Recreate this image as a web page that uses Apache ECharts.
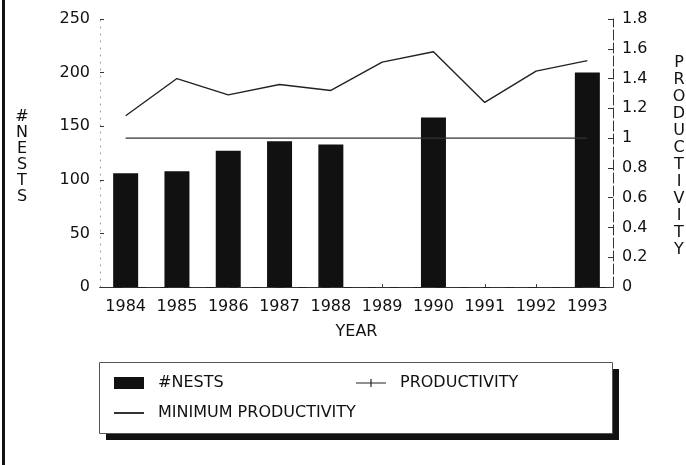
<!DOCTYPE html>
<html>
<head>
<meta charset="utf-8">
<script src="https://cdn.jsdelivr.net/npm/echarts@6/dist/echarts.min.js"></script>
<style>html,body{margin:0;padding:0;background:#fff}#c{width:686px;height:465px}</style>
</head>
<body>
<div id="c"></div>
<script>
var years = ['1984','1985','1986','1987','1988','1989','1990','1991','1992','1993'];
var nests = [106, 108, 127, 136, 133, null, 158, null, null, 200];
var productivity = [1.15, 1.40, 1.29, 1.36, 1.32, 1.51, 1.58, 1.24, 1.45, 1.52];
var minProductivity = [1, 1, 1, 1, 1, 1, 1, 1, 1, 1];
var nestTicks = [0, 50, 100, 150, 200, 250];
var prodTicks = [0, 0.2, 0.4, 0.6, 0.8, 1, 1.2, 1.4, 1.6, 1.8];

var FONT = 'DejaVu Sans';
var INK = '#111';
var chart = echarts.init(document.getElementById('c'), null, {renderer: 'canvas'});
chart.setOption({
  animation: false,
  backgroundColor: '#fff',
  textStyle: {fontFamily: FONT, color: INK},
  grid: {left: 100, right: 73, top: 19, bottom: 178},
  legend: {
    left: 99, top: 362, z: 10,
    padding: [10, 23, 9, 14],
    itemWidth: 30, itemHeight: 12, itemGap: 8,
    textStyle: {fontFamily: FONT, fontSize: 16, color: INK, width: 190, lineHeight: 22, padding: [0, 0, 0, 9]},
    data: [
      {name: '#NESTS', icon: 'rect'},
      {name: 'PRODUCTIVITY', icon: 'path://M0,5.5 H30 V6.6 H0 Z M14.4,2 H15.6 V10 H14.4 Z'},
      {name: 'MINIMUM PRODUCTIVITY', itemStyle: {color: 'rgba(0,0,0,0)', borderWidth: 0, borderColor: 'rgba(0,0,0,0)'}}
    ]
  },
  xAxis: [
    {
      type: 'category', data: years, position: 'bottom', boundaryGap: true,
      axisLine: {lineStyle: {color: '#222', width: 1.2}},
      axisTick: {show: true, inside: true, alignWithLabel: true, length: 3, lineStyle: {color: '#444'}},
      axisLabel: {fontFamily: FONT, fontSize: 16, color: INK, margin: 12, interval: 0},
      name: 'YEAR', nameLocation: 'middle', nameGap: 37,
      nameTextStyle: {fontFamily: FONT, fontSize: 16, color: INK}
    },
    {
      type: 'category', data: years, position: 'top',
      axisLine: {lineStyle: {color: '#333', width: 1, type: [14, 9]}},
      axisTick: {show: false}, axisLabel: {show: false}
    }
  ],
  yAxis: [
    {
      type: 'value', min: 0, max: 250, interval: 50, position: 'left',
      splitLine: {show: false},
      axisLine: {show: true, lineStyle: {color: '#999', width: 1, type: [1, 6]}},
      axisTick: {show: true, inside: true, length: 4, lineStyle: {color: '#333'}},
      axisLabel: {fontFamily: FONT, fontSize: 16, color: INK, margin: 10}
    },
    {
      type: 'value', min: 0, max: 1.8, interval: 0.2, position: 'right',
      splitLine: {show: false},
      axisLine: {show: true, lineStyle: {color: '#333', width: 1, type: [10, 3]}},
      axisTick: {show: true, inside: true, length: 5, lineStyle: {color: '#333'}},
      axisLabel: {fontFamily: FONT, fontSize: 16, color: INK, margin: 9}
    }
  ],
  series: [
    {
      name: '#NESTS', type: 'bar', xAxisIndex: 0, yAxisIndex: 0,
      data: nests, barWidth: 25,
      itemStyle: {color: '#111'}
    },
    {
      name: 'PRODUCTIVITY', type: 'line', xAxisIndex: 0, yAxisIndex: 1,
      data: productivity, symbol: 'none',
      lineStyle: {color: '#222', width: 1.4},
      itemStyle: {color: '#222'}
    },
    {
      name: 'MINIMUM PRODUCTIVITY', type: 'line', xAxisIndex: 0, yAxisIndex: 1,
      data: minProductivity, symbol: 'none',
      lineStyle: {color: '#333', width: 1.3},
      itemStyle: {color: '#333'}
    }
  ],
  graphic: [
    {type: 'rect', left: 2, top: 0, z: 1, shape: {width: 3, height: 465}, style: {fill: '#111'}, silent: true},
    {type: 'rect', left: 106, top: 369, z: 1, shape: {width: 513, height: 71}, style: {fill: '#111'}, silent: true},
    {type: 'rect', left: 99, top: 362, z: 2, shape: {width: 513, height: 71}, style: {fill: '#fff', stroke: '#555', lineWidth: 1}, silent: true},
    {type: 'text', x: 22, y: 157, style: {text: '#\nN\nE\nS\nT\nS', font: '16px "DejaVu Sans"', fill: INK, align: 'center', verticalAlign: 'middle', lineHeight: 16}},
    {type: 'text', x: 679, y: 156, style: {text: 'P\nR\nO\nD\nU\nC\nT\nI\nV\nI\nT\nY', font: '16px "DejaVu Sans"', fill: INK, align: 'center', verticalAlign: 'middle', lineHeight: 17}}
  ]
});
</script>
</body>
</html>
